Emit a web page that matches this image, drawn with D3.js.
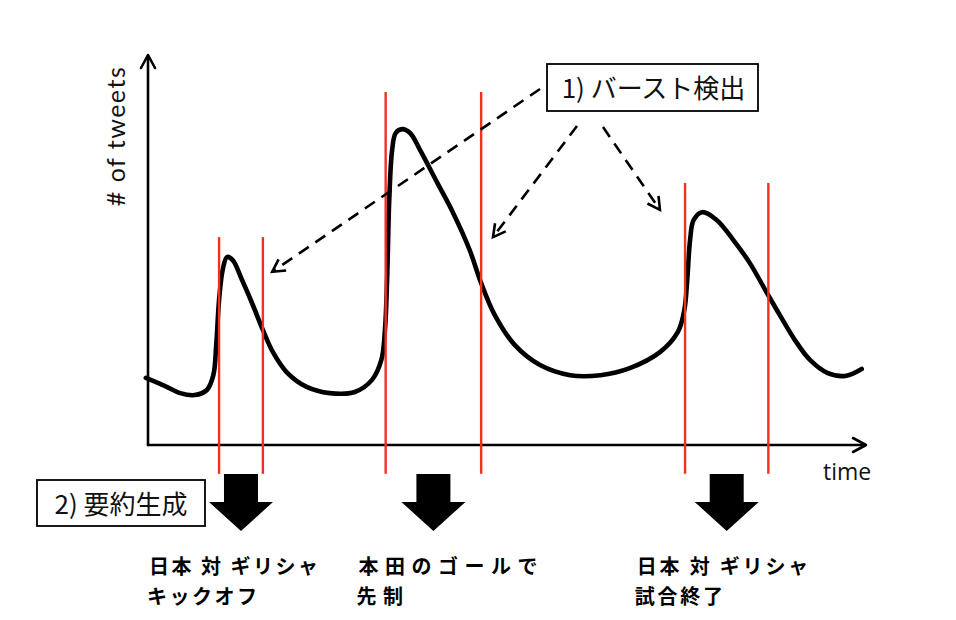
<!DOCTYPE html>
<html><head><meta charset="utf-8">
<script src="https://cdn.jsdelivr.net/npm/d3@7"></script>
<style>
html,body{margin:0;padding:0;background:#fff;}
svg{display:block;}
</style></head>
<body>
<svg id="chart" width="956" height="620"></svg>
<script>
// ---- data (time 0..100, tweets 0..100 arbitrary units) ----
const timeVals = [-0.3, 2.4, 4.5, 6.5, 8.2, 9.1, 9.5, 9.9, 10.4, 11.0, 11.8, 13.1, 14.6, 16.0, 17.4, 19.4, 22.1, 25.3, 28.8, 31.2, 32.5, 33.0, 33.3, 33.6, 34.0, 34.5, 35.4, 36.5, 37.9, 40.3, 42.5, 44.8, 46.4, 48.3, 51.1, 54.6, 58.8, 63.0, 67.1, 71.3, 73.8, 74.7, 75.1, 75.5, 76.0, 77.2, 79.2, 81.5, 83.8, 86.2, 88.0, 90.1, 92.2, 94.6, 97.1, 99.4];
const tweetVals = [17.2, 15.1, 13.3, 12.8, 14.1, 17.9, 25.6, 37.2, 44.9, 48.2, 47.4, 42.3, 35.9, 29.5, 23.8, 18.5, 14.9, 13.3, 13.6, 16.7, 21.8, 29.5, 42.3, 62.8, 75.6, 80.0, 81.0, 80.0, 75.6, 67.2, 59.5, 50.0, 41.5, 33.3, 25.6, 20.5, 17.9, 17.9, 19.7, 23.8, 29.0, 34.6, 42.3, 52.6, 57.7, 59.7, 57.7, 52.6, 46.7, 39.0, 33.3, 26.9, 21.8, 18.5, 17.7, 19.5];
const burstStarts = [9.9, 33.1, 74.8];
const burstEnds = [16.0, 46.4, 86.4];
const burstTops = [53.3, 90.5, 67.2];
const burstPointerTime = [17.3, 48.05, 71.3];
const burstPointerTweets = [44.4, 53.3, 60.3];
const summaryLine1 = ["日本 対 ギリシャ", "本田のゴールで", "日本 対 ギリシャ"];
const summaryLine2 = ["キックオフ", "先制", "試合終了"];
const yAxisLabel = "# of tweets";
const xAxisLabel = "time";
const step1Label = "1) バースト検出";
const step2Label = "2) 要約生成";

// ---- drawing ----
const svg = d3.select("#chart");
const x = d3.scaleLinear().domain([0, 100]).range([148, 866]);
const y = d3.scaleLinear().domain([0, 100]).range([445, 55]);
const x0 = x(0), y0 = y(0);
const cjk = "'Noto Sans CJK JP','Noto Sans',sans-serif";

// axes
const axisG = svg.append("g").attr("stroke", "#000").attr("stroke-width", 2.6).attr("fill", "none").attr("stroke-linecap", "round").attr("stroke-linejoin", "round");
axisG.append("line").attr("x1", x0).attr("y1", y0).attr("x2", x0).attr("y2", y(100) + 1);
axisG.append("line").attr("x1", x0).attr("y1", y0).attr("x2", x(100) - 1).attr("y2", y0);
axisG.append("path").attr("d", `M${x0-7},${y(100)+13} L${x0},${y(100)} L${x0+7},${y(100)+13}`);
axisG.append("path").attr("d", `M${x(100)-13},${y0-7} L${x(100)},${y0} L${x(100)-13},${y0+7}`);

svg.append("text").attr("transform", `translate(125,136) rotate(-90)`)
  .attr("text-anchor", "middle").attr("font-family", "Lato,'Open Sans',sans-serif")
  .attr("font-size", 25).attr("letter-spacing", 1.5).attr("fill", "#111").text(yAxisLabel);
svg.append("text").attr("x", 823).attr("y", 480)
  .attr("font-family", "'Open Sans',Lato,sans-serif").attr("font-size", 23).attr("fill", "#111").text(xAxisLabel);

// curve
const pts = timeVals.map((t, i) => [t, tweetVals[i]]);
const line = d3.line().x(d => x(d[0])).y(d => y(d[1])).curve(d3.curveCatmullRom.alpha(0.5));
svg.append("path").attr("d", line(pts)).attr("fill", "none").attr("stroke", "#000")
  .attr("stroke-width", 4.6).attr("stroke-linecap", "round").attr("stroke-linejoin", "round");

// red burst lines
const bottomV = -7.4;
const red = svg.append("g").attr("stroke", "#f2301c").attr("stroke-width", 2.4);
burstStarts.forEach((s, i) => {
  [s, burstEnds[i]].forEach(t => {
    red.append("line").attr("x1", x(t)).attr("x2", x(t)).attr("y1", y(burstTops[i])).attr("y2", y(bottomV));
  });
});

// step 1 box
const box1 = {x: 547, y: 64, w: 211, h: 47};
svg.append("rect").attr("x", box1.x).attr("y", box1.y).attr("width", box1.w).attr("height", box1.h)
  .attr("fill", "#fff").attr("stroke", "#000").attr("stroke-width", 1.8);
svg.append("text").attr("x", box1.x + box1.w / 2 + 1).attr("y", box1.y + 34).attr("text-anchor", "middle")
  .attr("font-family", cjk).attr("font-size", 26).attr("fill", "#111").text(step1Label);

// dashed pointer arrows
const starts = [[540, 89], [577, 126], [603, 127]];
const dashG = svg.append("g").attr("stroke", "#000").attr("stroke-width", 2.6).attr("fill", "none");
burstPointerTime.forEach((t, i) => {
  const tx = x(t), ty = y(burstPointerTweets[i]);
  const [sx, sy] = starts[i];
  dashG.append("line").attr("x1", sx).attr("y1", sy).attr("x2", tx).attr("y2", ty).attr("stroke-dasharray", "12,8");
  const ang = Math.atan2(ty - sy, tx - sx);
  const L = 14, A = 0.5;
  const p1 = [tx - L * Math.cos(ang - A), ty - L * Math.sin(ang - A)];
  const p2 = [tx - L * Math.cos(ang + A), ty - L * Math.sin(ang + A)];
  dashG.append("path").attr("d", `M${p1[0]},${p1[1]} L${tx},${ty} L${p2[0]},${p2[1]}`);
});

// step 2 box
const box2 = {x: 37, y: 480, w: 168, h: 46};
svg.append("rect").attr("x", box2.x).attr("y", box2.y).attr("width", box2.w).attr("height", box2.h)
  .attr("fill", "#fff").attr("stroke", "#000").attr("stroke-width", 1.8);
svg.append("text").attr("x", box2.x + box2.w / 2).attr("y", box2.y + 34).attr("text-anchor", "middle")
  .attr("font-family", cjk).attr("font-size", 26).attr("fill", "#111").text(step2Label);

// big down arrows + summaries
const labelOffsets = [-92, -75, -90];
const labelSpacing = [2.5, 6.5, 2.8];
burstStarts.forEach((s, i) => {
  const cx = (x(s) + x(burstEnds[i])) / 2;
  const top = 474, headY = 502, tip = 531, sw = 17, hw = 32;
  svg.append("path").attr("fill", "#000")
    .attr("d", `M${cx-sw},${top} L${cx+sw},${top} L${cx+sw},${headY} L${cx+hw},${headY} L${cx},${tip} L${cx-hw},${headY} L${cx-sw},${headY} Z`);
  const tg = svg.append("text").attr("font-family", cjk).attr("font-weight", "bold")
    .attr("font-size", 20).attr("fill", "#000").attr("letter-spacing", labelSpacing[i]);
  tg.append("tspan").attr("x", cx + labelOffsets[i]).attr("y", 574).text(summaryLine1[i]);
  tg.append("tspan").attr("x", cx + labelOffsets[i] - 2).attr("y", 604).text(summaryLine2[i]);
});
</script>
</body></html>
